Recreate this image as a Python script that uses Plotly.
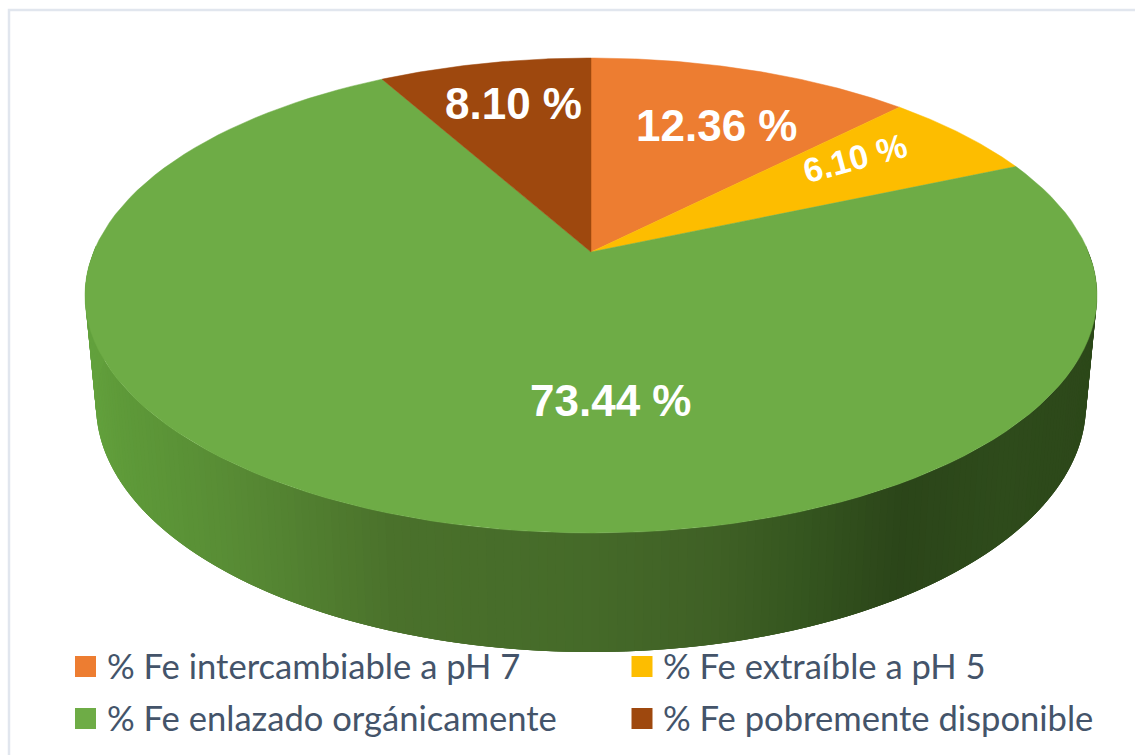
import numpy as np
import plotly.graph_objects as go

W, H = 1135, 755

CATEGORIES = ["% Fe intercambiable a pH 7", "% Fe extraíble a pH 5",
              "% Fe enlazado orgánicamente", "% Fe pobremente disponible"]
VALUES = [12.36, 6.10, 73.44, 8.10]
COLORS = ["#ED7D31", "#FDBD00", "#6EAC46", "#9E480E"]

# side wall shading, left to right
SHADE_X = [85, 130, 250, 400, 590, 720, 800, 900, 1000, 1097]
SHADE_COLORS = ["#64A33E", "#5E9A39", "#578A34", "#4A712B", "#456A29",
                "#3F6025", "#35561F", "#2B4519", "#2E4B1B", "#2C4719"]

# where the pie sits on the page
CX = 591
APEX_Y, TOP_Y, BOT_Y = 252, 58, 533
HALF_W = 506
WALL_CY, WALL_A, WALL_B = 405, 495, 247

k = (2 * APEX_Y - TOP_Y - BOT_Y) / (BOT_Y - TOP_Y)
d = BOT_Y * (1 + k) - APEX_Y
e = HALF_W * np.sqrt(1 - k ** 2)


def project(theta):
    # disc point at clockwise angle from 12 o'clock -> page, with perspective
    u, v = np.sin(theta), -np.cos(theta)
    w = 1 + k * v
    return CX + e * u / w, (APEX_Y + d * v) / w


def hex_rgb(c):
    return [int(c[i:i + 2], 16) for i in (1, 3, 5)]


def shade(x):
    rgb = np.array([hex_rgb(c) for c in SHADE_COLORS])
    vals = [int(round(np.interp(x, SHADE_X, rgb[:, i]))) for i in range(3)]
    return "rgb(%d,%d,%d)" % tuple(vals)


fig = go.Figure()

# frame
fig.add_trace(go.Scatter(x=[W + 5, 9, 9], y=[10, 10, H + 5], mode="lines",
                         line=dict(color="#E1E6EE", width=2.5), hoverinfo="skip"))

# side wall, strips painted right to left, each one reaching under the next
top_cy = (TOP_Y + BOT_Y) / 2
top_b = (BOT_Y - TOP_Y) / 2
phi = np.radians(np.arange(-12, 193, 1.0))
for i in range(len(phi) - 1):
    p0, p1 = phi[i], phi[min(i + 3, len(phi) - 1)]
    arc = np.linspace(p0, p1, 5)
    xs = np.r_[CX + HALF_W * np.cos(arc), CX + WALL_A * np.cos(arc[::-1])]
    ys = np.r_[top_cy + top_b * np.sin(arc), WALL_CY + WALL_B * np.sin(arc[::-1])]
    c = shade(CX + WALL_A * np.cos(phi[i]))
    fig.add_trace(go.Scatter(x=xs, y=ys, mode="lines", fill="toself", fillcolor=c,
                             line=dict(width=0), hoverinfo="skip"))

# top face slices
start = 0.0
for val, col, name in zip(VALUES, COLORS, CATEGORIES):
    ang = np.linspace(start, start + val, 120) / sum(VALUES) * 2 * np.pi
    rx, ry = project(ang)
    fig.add_trace(go.Scatter(x=np.r_[CX, rx, CX], y=np.r_[APEX_Y, ry, APEX_Y],
                             mode="lines", fill="toself", fillcolor=col,
                             line=dict(color=col, width=0.5), name=name))
    start += val

# legend
LEG_X = [85.5, 642, 85.5, 642]
LEG_Y = [666.5, 666.5, 718.5, 718.5]
for name, col, lx, ly in zip(CATEGORIES, COLORS, LEG_X, LEG_Y):
    fig.add_trace(go.Scatter(x=[lx], y=[ly], mode="markers", hoverinfo="skip",
                             marker=dict(symbol="square", size=21, color=col)))
    fig.add_annotation(x=lx + 19, y=ly - 1, text=name, showarrow=False, xanchor="left",
                       font=dict(family="Lato", size=34.6, color="#44546A"))

# data labels
LABEL_X = [716, 855, 610, 513]
LABEL_Y = [125, 158, 400, 103]
LABEL_SIZE = [44, 34, 44, 44]
LABEL_ANGLE = [0, -15, 0, 0]
for val, lx, ly, sz, ang in zip(VALUES, LABEL_X, LABEL_Y, LABEL_SIZE, LABEL_ANGLE):
    fig.add_annotation(x=lx, y=ly, text="<b>%.2f %%</b>" % val, showarrow=False, textangle=ang,
                       font=dict(family="Liberation Sans", size=sz, color="white"))

fig.update_layout(width=W, height=H, margin=dict(l=0, r=0, t=0, b=0), showlegend=False,
                  paper_bgcolor="white", plot_bgcolor="white",
                  xaxis=dict(range=[0, W], visible=False, fixedrange=True),
                  yaxis=dict(range=[H, 0], visible=False, fixedrange=True))
fig.write_html("out.html", config=dict(displayModeBar=False),
               post_script="document.body.style.margin='0';")
